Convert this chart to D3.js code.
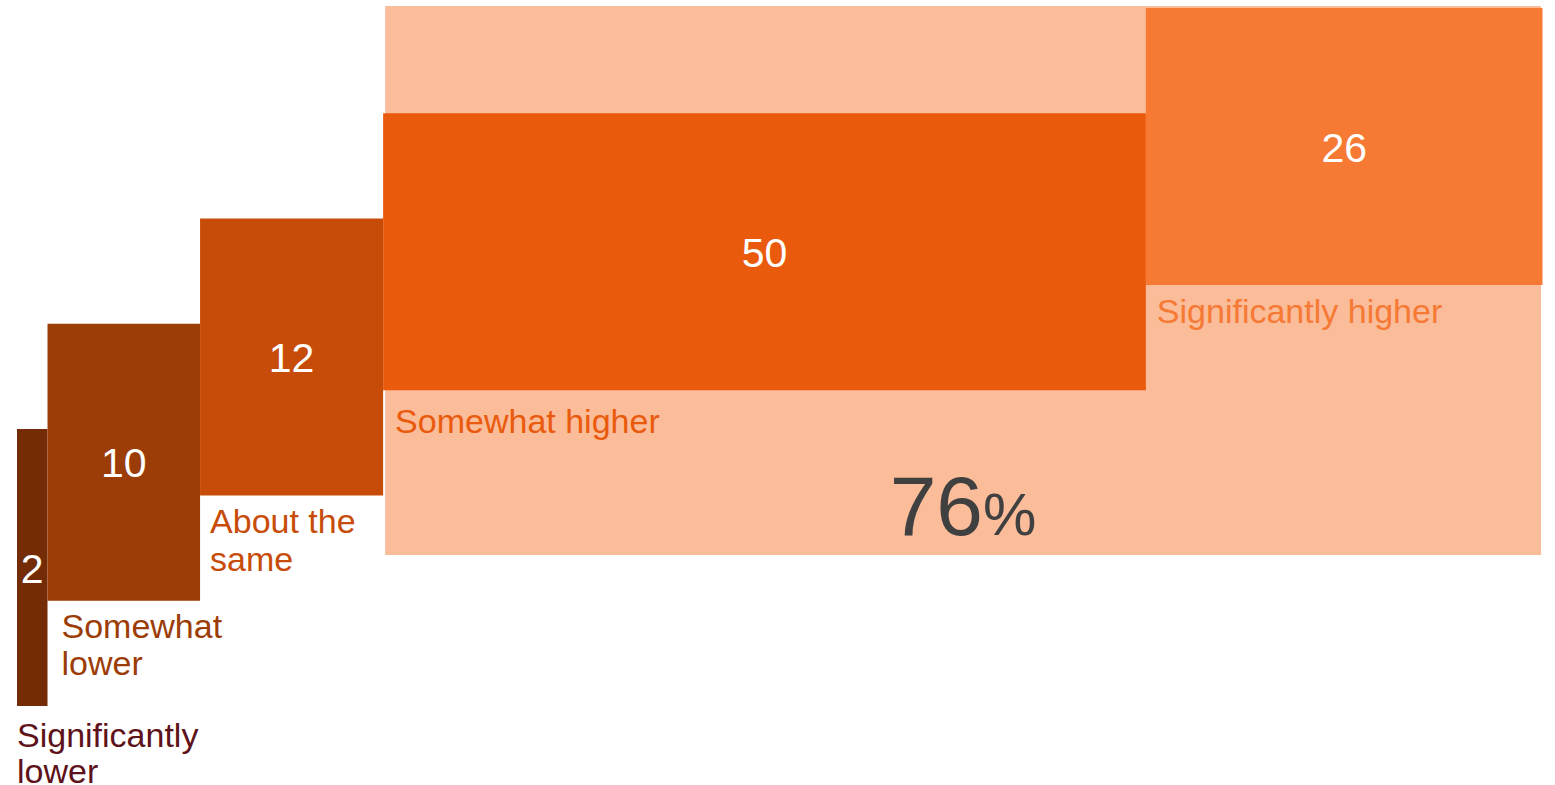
<!DOCTYPE html>
<html>
<head>
<meta charset="utf-8">
<script src="https://cdn.jsdelivr.net/npm/d3@7"></script>
<style>
  html, body { margin: 0; padding: 0; background: #ffffff; }
  svg { display: block; }
  text { font-family: "Liberation Sans", Arial, sans-serif; }
</style>
</head>
<body>
<svg id="chart" width="1555" height="785"></svg>
<script>
// ---- data ----
const categories = ["Significantly lower", "Somewhat lower", "About the same", "Somewhat higher", "Significantly higher"];
const labelLines = [["Significantly", "lower"], ["Somewhat", "lower"], ["About the", "same"], ["Somewhat higher"], ["Significantly higher"]];
const values = [2, 10, 12, 50, 26];
const highlightTotal = 76;      // Somewhat higher + Significantly higher
const highlightSuffix = "%";

// ---- styles / layout ----
const barColors = ["#732C06", "#9C3D07", "#C84C09", "#EA5A0C", "#F67934"];
const labelColors = ["#5E1219", "#9C3D07", "#C84C09", "#EA5A0C", "#F67934"];
const bgColor = "#FABC99";
const labelDx = [0, 14, 10, 12, 11];
const labelDy = [41, 37.5, 37.5, 43, 38];
const lineGap = [35.5, 36.7, 38, 37, 37];

const svg = d3.select("#chart");

const cum = d3.cumsum(values);
const starts = values.map((v, i) => cum[i] - v);

const x = d3.scaleLinear().domain([0, d3.sum(values)]).range([17, 1542.5]);
const yTop = d3.scaleLinear().domain([0, values.length - 1]).range([429, 8]);
const barH = 277;

// highlight background for the "higher" group (indices 3,4)
const hiStart = starts[3];
svg.append("rect")
  .attr("x", x(hiStart) + 2)
  .attr("y", yTop(4) - 2)
  .attr("width", x(d3.sum(values)) - 1.5 - (x(hiStart) + 2))
  .attr("height", 555 - (yTop(4) - 2))
  .attr("fill", bgColor);

const g = svg.append("g");

g.selectAll("rect.bar")
  .data(values)
  .join("rect")
  .attr("class", "bar")
  .attr("x", (d, i) => x(starts[i]))
  .attr("y", (d, i) => yTop(i))
  .attr("width", (d, i) => x(cum[i]) - x(starts[i]))
  .attr("height", barH)
  .attr("fill", (d, i) => barColors[i]);

g.selectAll("text.val")
  .data(values)
  .join("text")
  .attr("class", "val")
  .attr("x", (d, i) => (x(starts[i]) + x(cum[i])) / 2)
  .attr("y", (d, i) => yTop(i) + barH / 2 + 15)
  .attr("text-anchor", "middle")
  .attr("fill", "#ffffff")
  .attr("font-size", 41)
  .text(d => d);

const lbl = g.selectAll("text.lbl")
  .data(categories)
  .join("text")
  .attr("class", "lbl")
  .attr("x", (d, i) => x(starts[i]) + labelDx[i])
  .attr("y", (d, i) => yTop(i) + barH + labelDy[i])
  .attr("fill", (d, i) => labelColors[i])
  .attr("font-size", 34);

lbl.each(function(d, i) {
  const t = d3.select(this);
  labelLines[i].forEach((line, k) => {
    t.append("tspan")
      .attr("x", x(starts[i]) + labelDx[i])
      .attr("dy", k === 0 ? 0 : lineGap[i])
      .text(line);
  });
});

// big total
const cx = (x(hiStart) + 2 + x(d3.sum(values)) - 1.5) / 2;
const tot = svg.append("text")
  .attr("x", cx)
  .attr("y", 535)
  .attr("text-anchor", "middle")
  .attr("fill", "#404040");
tot.append("tspan").attr("font-size", 84).text(highlightTotal);
tot.append("tspan").attr("font-size", 60).text(highlightSuffix);
</script>
</body>
</html>
